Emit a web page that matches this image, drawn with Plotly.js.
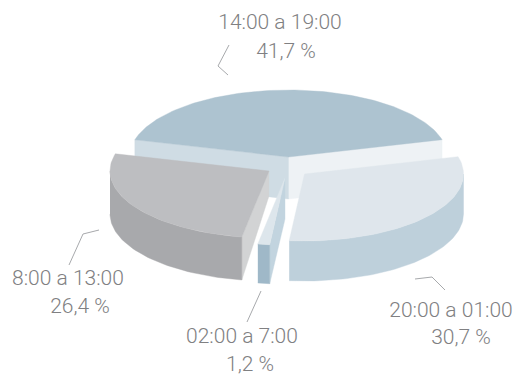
<!DOCTYPE html>
<html>
<head>
<meta charset="utf-8">
<script src="https://cdn.plot.ly/plotly-3.0.1.min.js"></script>
<style>html,body{margin:0;padding:0;background:#fff}#chart{width:514px;height:375px}</style>
</head>
<body>
<div id="chart"></div>
<script>
// Share of events per time band, going counter-clockwise from the right-hand edge.
const bands = ['14:00 a 19:00', '8:00 a 13:00', '02:00 a 7:00', '20:00 a 01:00'];
const shares = [41.7, 26.4, 1.2, 30.7];
const shareLabels = ['41,7 %', '26,4 %', '1,2 %', '30,7 %'];

// Exploded apex of every wedge, on the page-sized hidden axes.
const apexX = [288.5, 269, 285, 304.5];
const apexY = [157, 171, 178, 174];
// Wall height at the rim, and apparent height of the inner edge at the apex.
const rimDepth = [42, 43, 39, 40];
const apexDepth = [42, 25, 41, 41];

const topColors = ['#adc3d0', '#bdbec1', '#dde6ec', '#dfe6ec'];
const outerColors = ['#adc3d0', '#a8a9ac', '#9fb8c8', '#bed0db'];
const startWallColors = ['#eef2f5', null, null, null];
const endWallColors = ['#cfdce4', '#d2d3d4', '#c2d4df', null];

const startAngle = 15;
const radiusX = 159;
const radiusY = 67;

// Label placement: [x, y] of the band name and of the share.
const bandPos = [[280, 24], [68, 280], [242, 338], [451, 312]];
const sharePos = [[286, 53], [80, 308], [250, 366], [461, 339]];
const leaders = [
  [[229, 45], [218, 66], [228, 75]],
  [[69, 265], [83, 234], [99, 230]],
  [[261, 291], [247, 322]],
  [[415, 279], [432, 277], [445, 290]]
];

const total = shares.reduce((a, b) => a + b, 0);
const rad = d => d * Math.PI / 180;

function rimPoint(i, deg, drop) {
  return [apexX[i] + radiusX * Math.cos(rad(deg)),
          apexY[i] - radiusY * Math.sin(rad(deg)) + drop];
}
function arc(i, from, to, drop) {
  const pts = [];
  const n = Math.max(2, Math.ceil(Math.abs(to - from) / 1.5));
  for (let k = 0; k <= n; k++) pts.push(rimPoint(i, from + (to - from) * k / n, drop));
  return pts;
}
function face(pts, color) {
  return {
    type: 'scatter', mode: 'lines', fill: 'toself', fillcolor: color,
    x: pts.map(p => p[0]), y: pts.map(p => p[1]),
    line: {width: 0.4, color: color}, hoverinfo: 'skip', showlegend: false
  };
}

// Wedge spans follow directly from the shares.
const spans = [];
let cursor = startAngle;
shares.forEach(v => {
  spans.push([cursor, cursor + v / total * 360]);
  cursor += v / total * 360;
});

const traces = [];
// Painter's order: back wedge first, then the front right, the sliver and the grey one.
[0, 3, 2, 1].forEach(i => {
  const [a, b] = spans[i];
  const apex = [apexX[i], apexY[i]];
  const apexLow = [apexX[i], apexY[i] + apexDepth[i]];
  const depth = rimDepth[i];
  if (startWallColors[i]) {
    const s0 = rimPoint(i, a, 0), s1 = rimPoint(i, a, depth);
    traces.push(face([apex, s0, s1, apexLow, apex], startWallColors[i]));
  }
  if (endWallColors[i]) {
    const e0 = rimPoint(i, b, 0), e1 = rimPoint(i, b, depth);
    traces.push(face([apex, e0, e1, apexLow, apex], endWallColors[i]));
  }
  // Outer rim: only the part facing the viewer (180..360 degrees).
  const lo = Math.max(a, 180), hi = Math.min(b, 360);
  if (hi > lo) {
    traces.push(face(arc(i, lo, hi, 0).concat(arc(i, hi, lo, depth)), outerColors[i]));
  }
  traces.push(face([apex].concat(arc(i, a, b, 0)).concat([apex]), topColors[i]));
});

// Labels are text-only traces so they sit exactly on their anchor points.
const labelFont = {family: 'Roboto, "Open Sans", sans-serif', size: 21, color: '#808082', weight: 300};
traces.push({
  type: 'scatter', mode: 'text', textposition: 'middle center', cliponaxis: false,
  x: bandPos.map(p => p[0]).concat(sharePos.map(p => p[0])),
  y: bandPos.map(p => p[1]).concat(sharePos.map(p => p[1])),
  text: bands.concat(shareLabels),
  textfont: labelFont, hoverinfo: 'skip', showlegend: false
});

const shapes = leaders.map(l => ({
  type: 'path', xref: 'x', yref: 'y',
  path: l.map((p, k) => (k ? 'L' : 'M') + p[0] + ',' + p[1]).join(' '),
  line: {color: '#a7a9ac', width: 1}
}));

const hidden = {visible: false, fixedrange: true};
Plotly.newPlot('chart', traces, {
  width: 514, height: 375,
  margin: {l: 0, r: 0, t: 0, b: 0},
  paper_bgcolor: '#ffffff', plot_bgcolor: '#ffffff',
  showlegend: false,
  xaxis: Object.assign({range: [0, 514]}, hidden),
  yaxis: Object.assign({range: [375, 0]}, hidden),
  shapes
}, {displayModeBar: false, staticPlot: true});
</script>
</body>
</html>
